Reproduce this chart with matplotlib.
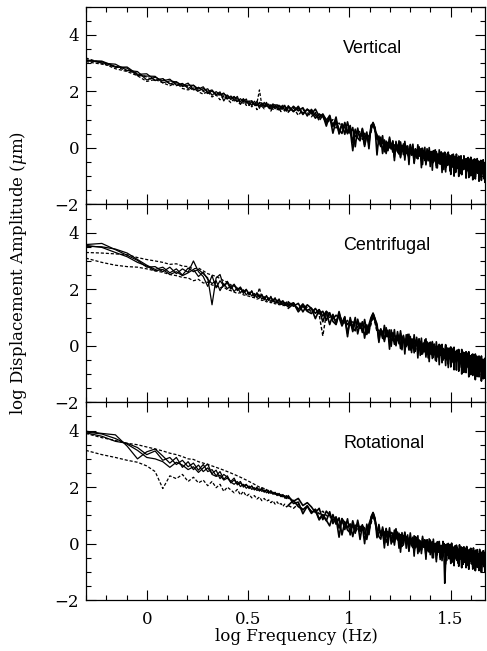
import numpy as np
import matplotlib
matplotlib.use('Agg')
import matplotlib.pyplot as plt
from matplotlib.ticker import MultipleLocator, FuncFormatter

plt.rcParams['font.family'] = ['DejaVu Serif']
plt.rcParams['mathtext.fontset'] = 'dejavuserif'

# frequency grids (Hz): coarse low-frequency part and dense high-frequency part
freq_low = 0.5 + 0.1 * np.arange(46)
freq_high = 5.0 + 0.3 * np.arange(141)

# ---- Vertical ----
vert_s1 = [3.10, 3.05, 2.85, 2.86, 2.60, 2.62, 2.39, 2.45, 2.26, 2.34,
           2.20, 2.29, 2.05, 2.14, 2.03, 2.09, 1.86, 1.99, 1.88, 1.94,
           1.73, 1.82, 1.71, 1.82, 1.54, 1.72, 1.62, 1.66, 1.50, 1.65,
           1.52, 1.57, 1.46, 1.61, 1.47, 1.55, 1.37, 1.51, 1.53, 1.39,
           1.49, 1.41, 1.51, 1.32, 1.43, 1.45]
vert_s2 = [3.12, 3.00, 2.96, 2.74, 2.70, 2.40, 2.50, 2.37, 2.43, 2.22,
           2.28, 2.10, 2.22, 2.08, 2.16, 1.94, 2.01, 1.89, 1.98, 1.66,
           1.87, 1.75, 1.82, 1.64, 1.74, 1.63, 1.73, 1.50, 1.64, 1.52,
           1.65, 1.40, 1.59, 1.49, 1.61, 1.41, 1.53, 1.42, 1.49, 1.53,
           1.34, 1.49, 1.39, 1.51, 1.35, 1.42]
vert_s3 = [3.07, 3.07, 2.88, 2.82, 2.56, 2.54, 2.53, 2.30, 2.37, 2.33,
           2.17, 2.22, 2.21, 2.01, 2.10, 2.00, 2.05, 1.88, 1.87, 1.91,
           1.84, 1.71, 1.80, 1.74, 1.64, 1.74, 1.58, 1.64, 1.67, 1.54,
           1.49, 1.61, 1.57, 1.45, 1.56, 1.52, 1.44, 1.56, 1.38, 1.49,
           1.51, 1.36, 1.45, 1.47, 1.31, 1.44]
vert_d1 = [3.18, 3.00, 2.80, 2.70, 2.55, 2.35, 2.42, 2.30, 2.20, 2.30,
           2.10, 2.05, 2.12, 1.98, 1.90, 2.00, 1.80, 1.88, 1.70, 1.85,
           1.72, 1.60, 1.75, 1.62, 1.55, 1.68, 1.50, 1.60, 1.45, 1.56,
           1.35, 1.50, 1.48, 1.38, 1.52, 1.44, 1.30, 1.46, 1.40, 1.35,
           1.42, 1.28, 1.40, 1.36, 1.30, 1.38]
vert_d2 = [3.05, 2.96, 2.88, 2.72, 2.64, 2.50, 2.38, 2.44, 2.28, 2.20,
           2.26, 2.15, 2.04, 2.14, 2.00, 1.92, 2.02, 1.85, 1.92, 1.80,
           1.76, 1.84, 1.66, 1.70, 1.62, 1.58, 1.66, 1.50, 1.62, 1.48,
           1.58, 2.05, 1.50, 1.44, 1.55, 1.40, 1.50, 1.36, 1.48, 1.42,
           1.34, 1.46, 1.38, 1.30, 1.42, 1.35]
vert_hs = [1.45, 1.30, 1.40, 1.22, 1.36, 1.28, 1.05, 1.20, 1.10, 0.90,
           1.02, 0.80, 0.95, 0.55, 0.85, 0.72, 0.50, 0.65, -0.10, 0.60,
           0.55, 0.38, 0.50, 0.05, 0.45, 0.40, 0.62, 0.90, 0.70, 0.30,
           0.30, 0.05, 0.25, 0.15, -0.20, 0.20, 0.00, 0.15, -0.15, 0.10,
           0.12, -0.10, 0.05, -0.35, 0.08, 0.02, -0.15, -0.05, 0.05, -0.40,
           -0.02, -0.20, -0.08, -0.55, -0.05, -0.10, -0.25, -0.12, -0.05, -0.45,
           -0.15, -0.35, -0.18, -0.60, -0.12, -0.20, -0.38, -0.25, -0.15, -0.50,
           -0.25, -0.45, -0.28, -0.70, -0.22, -0.30, -0.50, -0.32, -0.20, -0.60,
           -0.32, -0.55, -0.35, -0.85, -0.30, -0.38, -0.60, -0.40, -0.28, -0.65,
           -0.40, -0.62, -0.45, -1.00, -0.38, -0.45, -0.68, -0.48, -0.35, -0.75,
           -0.48, -0.72, -0.50, -0.95, -0.45, -0.50, -0.75, -0.52, -0.40, -0.85,
           -0.55, -0.80, -0.58, -1.05, -0.50, -0.58, -0.82, -0.60, -0.45, -0.90,
           -0.60, -0.85, -0.62, -1.10, -0.55, -0.62, -0.88, -0.65, -0.50, -0.95,
           -0.65, -0.90, -0.68, -1.15, -0.60, -0.68, -0.92, -0.70, -0.55, -1.00,
           -0.70]
vert_ha = [1.48, 1.28, 1.47, 1.18, 1.37, 1.20, 1.37, 1.11, 1.17, 0.77,
           1.15, 0.75, 1.09, 0.49, 0.83, 0.48, 0.92, 0.51, 0.72, 0.04,
           0.70, 0.32, 0.69, 0.11, 0.48, 0.15, 0.75, 0.88, 0.70, -0.25,
           0.42, 0.05, 0.43, -0.14, 0.24, -0.08, 0.38, -0.02, 0.22, -0.45,
           0.23, -0.13, 0.25, -0.31, 0.07, -0.24, 0.23, -0.16, 0.07, -0.59,
           0.10, -0.26, 0.13, -0.44, -0.05, -0.36, 0.11, -0.28, -0.04, -0.70,
           -0.01, -0.37, 0.02, -0.54, -0.15, -0.46, 0.01, -0.38, -0.13, -0.79,
           -0.10, -0.46, -0.07, -0.62, -0.23, -0.54, -0.07, -0.46, -0.21, -0.87,
           -0.18, -0.54, -0.15, -0.70, -0.31, -0.62, -0.15, -0.53, -0.29, -0.94,
           -0.25, -0.61, -0.22, -0.77, -0.38, -0.69, -0.22, -0.60, -0.36, -1.01,
           -0.32, -0.68, -0.28, -0.84, -0.44, -0.75, -0.28, -0.66, -0.42, -1.07,
           -0.38, -0.74, -0.34, -0.90, -0.50, -0.81, -0.33, -0.72, -0.47, -1.13,
           -0.43, -0.79, -0.39, -0.95, -0.55, -0.86, -0.38, -0.77, -0.52, -1.18,
           -0.48, -0.83, -0.44, -0.99, -0.60, -0.90, -0.42, -0.81, -0.56, -1.22,
           -0.52]
vert_hb = [1.27, 1.47, 1.31, 1.42, 1.13, 1.36, 1.15, 1.05, 1.20, 0.98,
           1.13, 0.52, 0.96, 0.64, 0.51, 0.90, 0.56, 0.79, 0.19, 0.66,
           0.35, 0.25, 0.66, 0.33, 0.56, -0.03, 0.80, 0.85, 0.60, 0.47,
           0.14, 0.38, -0.20, 0.28, -0.01, -0.10, 0.32, 0.00, 0.25, -0.33,
           0.15, -0.13, -0.22, 0.21, -0.11, 0.14, -0.43, 0.06, -0.23, -0.31,
           0.12, -0.19, 0.06, -0.52, -0.03, -0.31, -0.39, 0.04, -0.27, -0.02,
           -0.59, -0.10, -0.38, -0.46, -0.03, -0.34, -0.09, -0.66, -0.16, -0.44,
           -0.52, -0.09, -0.40, -0.14, -0.71, -0.22, -0.50, -0.58, -0.14, -0.45,
           -0.20, -0.77, -0.28, -0.55, -0.63, -0.20, -0.51, -0.25, -0.82, -0.32,
           -0.60, -0.68, -0.25, -0.55, -0.30, -0.87, -0.38, -0.65, -0.73, -0.29,
           -0.60, -0.35, -0.91, -0.42, -0.69, -0.77, -0.34, -0.64, -0.39, -0.95,
           -0.46, -0.74, -0.81, -0.38, -0.68, -0.43, -0.99, -0.50, -0.77, -0.85,
           -0.41, -0.72, -0.46, -1.03, -0.53, -0.81, -0.88, -0.45, -0.75, -0.50,
           -1.06, -0.56, -0.84, -0.91, -0.48, -0.78, -0.52, -1.09, -0.59, -0.87,
           -0.94]
vert_hd = [1.30, 1.42, 1.15, 1.35, 1.25, 1.10, 1.25, 0.95, 1.15, 1.00,
           0.90, 1.00, 0.70, 0.88, 0.75, 0.60, 0.75, 0.55, 0.68, 0.40,
           0.48, 0.60, 0.30, 0.52, 0.42, 0.30, 0.55, 0.85, 0.60, 0.35,
           0.18, 0.28, 0.10, 0.22, 0.08, 0.05, 0.18, -0.05, 0.12, -0.25,
           0.00, 0.10, -0.12, 0.06, -0.02, -0.08, 0.05, -0.20, -0.02, -0.10,
           -0.15, -0.05, -0.30, -0.10, -0.18, -0.20, -0.08, -0.30, -0.15, -0.22,
           -0.28, -0.15, -0.45, -0.20, -0.25, -0.30, -0.18, -0.40, -0.25, -0.35,
           -0.38, -0.22, -0.42, -0.30, -0.55, -0.40, -0.28, -0.48, -0.35, -0.38,
           -0.45, -0.32, -0.60, -0.38, -0.42, -0.48, -0.35, -0.55, -0.42, -0.80,
           -0.52, -0.40, -0.58, -0.45, -0.50, -0.55, -0.42, -0.70, -0.48, -0.56,
           -0.60, -0.45, -0.65, -0.52, -0.58, -0.62, -0.48, -0.75, -0.55, -0.60,
           -0.65, -0.52, -0.70, -0.58, -0.95, -0.68, -0.55, -0.78, -0.60, -0.66,
           -0.70, -0.58, -0.80, -0.62, -0.72, -0.72, -0.60, -0.90, -0.65, -0.74,
           -0.75, -0.62, -0.85, -0.68, -0.78, -0.78, -0.65, -1.00, -0.70, -0.80,
           -0.75]

# ---- Centrifugal ----
cent_s1 = [3.58, 3.62, 3.40, 3.20, 3.02, 2.78, 2.80, 2.62, 2.78, 2.55,
           2.72, 2.60, 3.00, 2.62, 2.45, 2.10, 2.48, 2.05, 2.30, 2.12,
           2.22, 2.00, 2.15, 1.95, 2.05, 1.85, 1.98, 1.80, 1.92, 1.75,
           1.85, 1.70, 1.80, 1.62, 1.78, 1.60, 1.75, 1.55, 1.70, 1.52,
           1.66, 1.50, 1.60, 1.42, 1.55, 1.45]
cent_s2 = [3.52, 3.50, 3.42, 3.28, 3.05, 2.85, 2.70, 2.78, 2.58, 2.72,
           2.50, 2.75, 2.62, 2.70, 2.55, 2.40, 1.45, 2.40, 2.52, 2.10,
           2.28, 2.05, 2.18, 1.98, 2.08, 1.90, 2.00, 1.82, 1.95, 1.72,
           1.88, 1.74, 1.82, 1.66, 1.76, 1.62, 1.72, 1.58, 1.68, 1.55,
           1.62, 1.48, 1.58, 1.50, 1.52, 1.40]
cent_s3 = [3.55, 3.48, 3.30, 3.15, 2.95, 2.82, 2.65, 2.70, 2.52, 2.62,
           2.48, 2.58, 2.70, 2.45, 2.60, 2.35, 2.20, 2.30, 1.95, 2.20,
           2.02, 2.12, 1.92, 2.05, 1.88, 1.98, 1.80, 1.90, 1.76, 1.85,
           1.70, 1.80, 1.65, 1.74, 1.60, 1.70, 1.56, 1.66, 1.52, 1.62,
           1.48, 1.58, 1.45, 1.54, 1.42, 1.50]
cent_d1 = [3.30, 3.28, 3.25, 3.22, 3.12, 3.05, 3.00, 2.95, 2.88, 2.90,
           2.82, 2.80, 2.72, 2.75, 2.65, 2.55, 2.50, 2.45, 2.38, 2.30,
           2.25, 2.15, 2.12, 2.05, 2.00, 1.95, 1.90, 1.85, 1.82, 1.80,
           1.75, 2.05, 1.70, 1.68, 1.62, 1.65, 1.58, 1.60, 1.55, 1.52,
           1.50, 1.46, 1.48, 1.42, 1.45, 1.40]
cent_d2 = [3.10, 2.95, 2.85, 2.80, 2.78, 2.72, 2.65, 2.60, 2.52, 2.48,
           2.42, 2.40, 2.30, 2.35, 2.22, 2.25, 2.15, 2.12, 2.05, 2.08,
           1.98, 1.95, 1.90, 1.85, 1.88, 1.80, 1.78, 1.75, 1.72, 1.70,
           1.65, 1.68, 1.60, 1.62, 1.55, 1.58, 1.52, 1.54, 1.48, 1.50,
           1.45, 1.46, 1.42, 1.44, 1.38, 1.40]
cent_hs = [1.55, 1.40, 1.50, 1.20, 1.45, 1.32, 1.15, 1.28, 0.85, 1.22,
           1.10, 0.95, 1.08, 1.00, 0.70, 0.92, 0.75, 0.88, 0.50, 0.85,
           0.78, 0.62, 0.75, 0.68, 0.40, 0.65, 0.85, 1.15, 0.95, 0.55,
           0.55, 0.40, 0.52, 0.15, 0.48, 0.45, 0.30, 0.42, 0.35, 0.05,
           0.35, 0.20, 0.32, -0.10, 0.30, 0.28, 0.12, 0.25, 0.18, -0.15,
           0.20, 0.05, 0.18, -0.25, 0.15, 0.12, -0.02, 0.10, 0.05, -0.30,
           0.06, -0.10, 0.04, -0.40, 0.02, 0.00, -0.15, -0.02, -0.08, -0.45,
           -0.06, -0.22, -0.08, -0.55, -0.10, -0.12, -0.28, -0.14, -0.18, -0.60,
           -0.16, -0.32, -0.18, -0.70, -0.20, -0.22, -0.38, -0.24, -0.28, -0.75,
           -0.26, -0.42, -0.28, -0.85, -0.30, -0.30, -0.48, -0.32, -0.36, -0.90,
           -0.35, -0.52, -0.36, -1.00, -0.38, -0.40, -0.56, -0.42, -0.45, -0.95,
           -0.44, -0.60, -0.46, -1.10, -0.48, -0.48, -0.65, -0.50, -0.55, -1.05,
           -0.52, -0.68, -0.54, -1.20, -0.56, -0.55, -0.72, -0.58, -0.60, -1.10,
           -0.58, -0.76, -0.62, -1.25, -0.64, -0.62, -0.80, -0.65, -0.68, -1.15,
           -0.68]
cent_ha = [1.33, 1.48, 1.29, 1.48, 1.25, 1.33, 0.96, 1.27, 1.05, 1.21,
           0.75, 1.11, 0.77, 1.21, 0.79, 1.00, 0.32, 1.00, 0.62, 1.00,
           0.42, 0.80, 0.47, 0.93, 0.52, 0.75, 1.00, 1.15, 0.95, 0.77,
           0.20, 0.58, 0.26, 0.72, 0.32, 0.55, -0.12, 0.56, 0.19, 0.57,
           0.00, 0.38, 0.07, 0.53, 0.14, 0.37, -0.29, 0.39, 0.03, 0.41,
           -0.15, 0.24, -0.08, 0.39, -0.01, 0.23, -0.43, 0.25, -0.11, 0.27,
           -0.29, 0.10, -0.21, 0.25, -0.14, 0.10, -0.56, 0.13, -0.24, 0.15,
           -0.41, -0.02, -0.33, 0.14, -0.25, -0.01, -0.67, 0.02, -0.34, 0.05,
           -0.51, -0.12, -0.43, 0.04, -0.35, -0.11, -0.77, -0.08, -0.43, -0.04,
           -0.60, -0.21, -0.52, -0.05, -0.44, -0.20, -0.86, -0.17, -0.52, -0.13,
           -0.69, -0.30, -0.61, -0.13, -0.52, -0.28, -0.94, -0.25, -0.60, -0.21,
           -0.77, -0.38, -0.69, -0.21, -0.60, -0.36, -1.02, -0.33, -0.68, -0.29,
           -0.85, -0.46, -0.76, -0.29, -0.67, -0.43, -1.09, -0.40, -0.75, -0.36,
           -0.92, -0.53, -0.84, -0.36, -0.75, -0.51, -1.17, -0.48, -0.83, -0.44,
           -1.00]
cent_hb = [1.44, 1.52, 1.20, 1.40, 1.22, 1.14, 1.32, 1.13, 1.22, 0.90,
           1.17, 0.86, 0.75, 1.15, 0.81, 1.03, 0.44, 0.92, 0.62, 0.53,
           0.94, 0.62, 0.85, 0.27, 0.74, 0.45, 0.95, 1.12, 0.85, 0.70,
           0.12, 0.60, 0.31, 0.22, 0.64, 0.32, 0.56, -0.02, 0.46, 0.17,
           0.08, 0.50, 0.19, 0.43, -0.14, 0.34, 0.06, -0.03, 0.40, 0.08,
           0.33, -0.24, 0.24, -0.04, -0.13, 0.30, -0.01, 0.23, -0.34, 0.14,
           -0.14, -0.22, 0.21, -0.11, 0.14, -0.43, 0.06, -0.22, -0.31, 0.12,
           -0.19, 0.06, -0.51, -0.02, -0.30, -0.38, 0.05, -0.26, -0.01, -0.58,
           -0.09, -0.37, -0.45, -0.02, -0.33, -0.08, -0.65, -0.16, -0.43, -0.51,
           -0.08, -0.39, -0.14, -0.71, -0.22, -0.50, -0.58, -0.15, -0.45, -0.20,
           -0.77, -0.28, -0.56, -0.63, -0.20, -0.51, -0.26, -0.83, -0.33, -0.61,
           -0.69, -0.26, -0.57, -0.31, -0.88, -0.39, -0.67, -0.75, -0.31, -0.62,
           -0.37, -0.94, -0.44, -0.72, -0.79, -0.36, -0.67, -0.42, -0.98, -0.49,
           -0.77, -0.85, -0.42, -0.72, -0.47, -1.04, -0.55, -0.83, -0.90, -0.47,
           -0.78]
cent_hd = [1.40, 1.52, 1.30, 1.45, 1.35, 1.20, 1.30, 1.10, 0.35, 1.12,
           1.00, 1.08, 0.90, 1.02, 0.95, 0.80, 0.90, 0.72, 0.85, 0.78,
           0.65, 0.75, 0.55, 0.70, 0.60, 0.55, 0.75, 1.05, 0.80, 0.50,
           0.42, 0.52, 0.35, 0.48, 0.38, 0.32, 0.42, 0.20, 0.38, 0.30,
           0.22, 0.32, 0.15, 0.28, 0.05, 0.15, 0.25, 0.08, 0.20, 0.12,
           0.08, 0.18, 0.00, 0.12, -0.20, 0.00, 0.10, -0.08, 0.05, 0.02,
           -0.05, 0.04, -0.12, -0.02, -0.30, -0.12, -0.02, -0.18, -0.08, -0.10,
           -0.18, -0.08, -0.25, -0.12, -0.40, -0.22, -0.12, -0.30, -0.18, -0.20,
           -0.28, -0.18, -0.35, -0.22, -0.50, -0.32, -0.22, -0.40, -0.28, -0.30,
           -0.36, -0.26, -0.45, -0.32, -0.60, -0.40, -0.30, -0.50, -0.36, -0.42,
           -0.45, -0.35, -0.55, -0.40, -0.70, -0.48, -0.38, -0.58, -0.45, -0.50,
           -0.52, -0.42, -0.62, -0.48, -0.85, -0.56, -0.46, -0.66, -0.52, -0.60,
           -0.60, -0.50, -0.70, -0.56, -0.90, -0.62, -0.52, -0.74, -0.60, -0.66,
           -0.66, -0.56, -0.78, -0.62, -0.95, -0.70, -0.60, -0.80, -0.66, -0.74,
           -0.72]

# ---- Rotational ----
rot_s1 = [3.98, 3.90, 3.85, 3.45, 3.00, 3.25, 3.35, 3.10, 2.85, 3.05,
          2.70, 2.90, 2.62, 2.78, 2.55, 2.68, 2.48, 2.60, 2.30, 2.45,
          2.35, 2.20, 2.32, 2.08, 2.15, 2.05, 2.10, 1.95, 2.05, 1.90,
          2.00, 1.86, 1.98, 1.82, 1.92, 1.78, 1.88, 1.75, 1.82, 1.70,
          1.78, 1.66, 1.74, 1.62, 1.70, 1.60]
rot_s2 = [3.92, 3.80, 3.62, 3.55, 3.40, 3.15, 3.28, 2.95, 3.05, 2.80,
          2.95, 2.72, 2.85, 2.60, 2.80, 2.55, 2.62, 2.40, 2.55, 2.28,
          2.40, 2.15, 2.25, 2.12, 2.20, 2.00, 2.08, 1.98, 2.02, 1.92,
          1.96, 1.88, 1.92, 1.84, 1.88, 1.80, 1.84, 1.76, 1.80, 1.72,
          1.76, 1.68, 1.72, 1.64, 1.68, 1.62]
rot_s3 = [3.95, 3.88, 3.72, 3.52, 3.30, 3.05, 3.00, 2.90, 2.70, 2.88,
          2.78, 2.62, 2.72, 2.52, 2.68, 2.82, 2.45, 2.38, 2.42, 2.25,
          2.32, 2.18, 2.10, 2.20, 2.02, 2.10, 1.96, 2.04, 1.92, 1.98,
          1.88, 1.94, 1.85, 1.90, 1.80, 1.85, 1.78, 1.82, 1.74, 1.78,
          1.70, 1.74, 1.66, 1.70, 1.62, 1.66]
rot_d1 = [3.90, 3.75, 3.65, 3.55, 3.50, 3.42, 3.35, 3.28, 3.20, 3.15,
          3.08, 3.00, 2.98, 2.90, 2.85, 2.80, 2.75, 2.70, 2.65, 2.60,
          2.55, 2.50, 2.45, 2.40, 2.35, 2.30, 2.25, 2.20, 2.15, 2.10,
          2.05, 2.00, 1.98, 1.95, 1.90, 1.88, 1.85, 1.80, 1.78, 1.75,
          1.72, 1.68, 1.66, 1.62, 1.60, 1.58]
rot_d2 = [3.30, 3.15, 3.05, 2.95, 2.88, 2.75, 2.55, 1.95, 2.40, 2.30,
          2.45, 2.20, 2.35, 2.15, 2.25, 2.05, 2.20, 1.98, 2.10, 1.85,
          2.00, 1.90, 1.80, 1.92, 1.72, 1.85, 1.68, 1.75, 1.62, 1.70,
          1.58, 1.65, 1.52, 1.60, 1.50, 1.55, 1.45, 1.52, 1.40, 1.48,
          1.38, 1.42, 1.32, 1.40, 1.30, 1.35]
rot_hs = [1.65, 1.50, 1.60, 1.35, 1.45, 1.30, 1.10, 1.25, 0.85, 1.15,
          1.00, 0.82, 0.95, 0.55, 0.88, 0.75, 0.58, 0.70, 0.25, 0.65,
          0.65, 0.48, 0.62, 0.55, 0.15, 0.58, 0.80, 1.10, 0.85, 0.45,
          0.50, 0.35, 0.48, 0.00, 0.42, 0.42, 0.28, 0.40, 0.32, -0.05,
          0.35, 0.20, 0.32, -0.15, 0.28, 0.28, 0.12, 0.25, 0.18, -0.25,
          0.20, 0.05, 0.18, -0.30, 0.12, 0.14, -0.02, 0.12, 0.05, -0.35,
          0.08, -0.08, 0.05, -0.45, 0.02, 0.02, -0.12, 0.00, -0.06, -0.50,
          -0.02, -0.18, -0.04, -0.55, -0.08, -0.06, -0.22, -0.08, -0.12, -0.60,
          -0.10, -0.25, -1.40, -0.65, -0.14, -0.14, -0.30, -0.16, -0.18, -0.70,
          -0.16, -0.32, -0.18, -0.75, -0.22, -0.20, -0.35, -0.22, -0.25, -0.80,
          -0.22, -0.38, -0.24, -0.85, -0.28, -0.25, -0.42, -0.28, -0.30, -0.85,
          -0.28, -0.45, -0.30, -0.90, -0.34, -0.32, -0.48, -0.34, -0.36, -0.90,
          -0.34, -0.50, -0.36, -0.95, -0.40, -0.36, -0.52, -0.38, -0.42, -0.95,
          -0.38, -0.55, -0.42, -1.00, -0.45, -0.40, -0.58, -0.44, -0.46, -1.00,
          -0.50]
rot_ha = [1.69, 1.42, 1.47, 1.06, 1.33, 1.07, 1.21, 0.88, 1.02, 0.81,
          1.13, 0.71, 0.92, 0.23, 0.89, 0.50, 0.88, 0.31, 0.69, 0.37,
          0.83, 0.43, 0.67, 0.00, 0.69, 0.32, 0.95, 1.10, 0.90, 0.21,
          0.68, 0.28, 0.52, -0.15, 0.54, 0.17, 0.56, -0.01, 0.38, 0.06,
          0.53, 0.13, 0.37, -0.30, 0.39, 0.02, 0.41, -0.16, 0.23, -0.09,
          0.38, -0.01, 0.23, -0.44, 0.25, -0.11, 0.28, -0.29, 0.10, -0.21,
          0.26, -0.13, 0.11, -0.55, 0.14, -0.22, 0.17, -0.39, 0.00, -0.31,
          0.16, -0.23, 0.01, -0.64, 0.05, -0.31, 0.08, -0.48, -0.08, -0.39,
          0.08, -0.31, -0.06, -0.72, -0.02, -0.38, 0.01, -0.54, -0.15, -0.45,
          0.02, -0.37, -0.12, -0.78, -0.08, -0.44, -0.05, -0.60, -0.21, -0.51,
          -0.04, -0.43, -0.18, -0.84, -0.14, -0.50, -0.11, -0.66, -0.27, -0.57,
          -0.10, -0.49, -0.24, -0.90, -0.20, -0.56, -0.16, -0.72, -0.32, -0.63,
          -0.15, -0.54, -0.29, -0.95, -0.25, -0.61, -0.21, -0.77, -0.37, -0.68,
          -0.20, -0.58, -0.34, -0.99, -0.30, -0.65, -0.25, -0.81, -0.41, -0.72,
          -0.24]
rot_hb = [1.36, 1.53, 1.31, 1.20, 1.34, 1.11, 1.18, 0.84, 1.03, 0.83,
          0.63, 1.03, 0.69, 0.91, 0.31, 0.77, 0.48, 0.39, 0.81, 0.49,
          0.73, 0.15, 0.64, 0.35, 0.27, 0.69, 0.90, 1.05, 0.80, 0.53,
          0.25, 0.16, 0.59, 0.27, 0.52, -0.06, 0.43, 0.14, 0.06, 0.48,
          0.17, 0.41, -0.16, 0.32, 0.04, -0.05, 0.38, 0.06, 0.31, -0.27,
          0.22, -0.06, -0.14, 0.28, -0.03, 0.22, -0.35, 0.13, -0.15, -0.23,
          0.20, -0.11, 0.14, -0.43, 0.06, -0.22, -0.30, 0.13, -0.18, 0.07,
          -0.50, -0.01, -0.29, -0.36, 0.07, -0.24, 0.01, -0.56, -0.06, -0.34,
          -0.42, 0.01, -0.29, -0.04, -0.60, -0.11, -0.39, -0.46, -0.03, -0.33,
          -0.08, -0.65, -0.15, -0.43, -0.50, -0.07, -0.38, -0.12, -0.69, -0.19,
          -0.47, -0.55, -0.11, -0.42, -0.16, -0.73, -0.24, -0.51, -0.59, -0.15,
          -0.46, -0.21, -0.77, -0.28, -0.55, -0.63, -0.19, -0.50, -0.24, -0.81,
          -0.31, -0.59, -0.66, -0.23, -0.53, -0.28, -0.84, -0.35, -0.62, -0.70,
          -0.26, -0.56, -0.31, -0.87, -0.38, -0.65, -0.72, -0.29, -0.59, -0.34,
          -0.90]
rot_hd = [1.35, 1.25, 1.40, 1.20, 1.30, 1.15, 1.22, 1.05, 1.15, 1.00,
          0.92, 0.98, 0.80, 0.90, 0.75, 0.68, 0.75, 0.60, 0.70, 0.40,
          0.55, 0.62, 0.48, 0.58, 0.50, 0.45, 0.70, 1.00, 0.75, 0.40,
          0.38, 0.45, 0.30, 0.42, 0.05, 0.30, 0.38, 0.22, 0.35, 0.25,
          0.22, 0.30, 0.15, 0.28, -0.10, 0.15, 0.22, 0.08, 0.20, 0.12,
          0.08, 0.15, 0.00, 0.12, -0.20, 0.02, 0.10, -0.05, 0.06, 0.00,
          -0.04, 0.04, -0.10, 0.00, -0.30, -0.08, 0.00, -0.15, -0.05, -0.10,
          -0.12, -0.05, -0.20, -0.10, -0.40, -0.16, -0.08, -0.22, -0.14, -0.18,
          -0.20, -0.12, -0.25, -0.18, -0.45, -0.22, -0.15, -0.30, -0.20, -0.25,
          -0.26, -0.18, -0.32, -0.24, -0.55, -0.28, -0.20, -0.36, -0.26, -0.32,
          -0.32, -0.24, -0.40, -0.30, -0.60, -0.35, -0.26, -0.42, -0.32, -0.38,
          -0.38, -0.30, -0.45, -0.35, -0.65, -0.40, -0.32, -0.48, -0.38, -0.44,
          -0.42, -0.35, -0.50, -0.40, -0.70, -0.45, -0.38, -0.52, -0.42, -0.48,
          -0.48, -0.40, -0.55, -0.45, -0.75, -0.50, -0.42, -0.58, -0.48, -0.52,
          -0.55]

DASH = (0, (2.5, 1.5))


def draw_panel(ax, solids, dashes, high_solids, high_d, name, bottom=False):
    x_low = np.log10(freq_low)
    x_high = np.log10(freq_high)
    for y in dashes:
        ax.plot(x_low, y, color='black', linewidth=0.9, linestyle=DASH)
    for y in solids:
        ax.plot(x_low, y, color='black', linewidth=0.9)
    ax.plot(x_high, high_d, color='black', linewidth=1.0, linestyle=DASH)
    for y in high_solids:
        ax.plot(x_high, y, color='black', linewidth=1.2)

    ax.set_xlim(-0.3, 1.67)
    ax.set_ylim(-2, 5)
    ax.xaxis.set_major_locator(MultipleLocator(0.5))
    ax.xaxis.set_minor_locator(MultipleLocator(0.1))
    ax.yaxis.set_major_locator(MultipleLocator(2))
    ax.yaxis.set_minor_locator(MultipleLocator(0.5))
    ax.xaxis.set_major_formatter(FuncFormatter(lambda v, p: '%g' % v))
    ax.tick_params(which='both', direction='in', top=True, right=True,
                   width=0.8, labelsize=12)
    ax.tick_params(which='major', length=7)
    ax.tick_params(which='minor', length=3.5)
    ax.tick_params(axis='y', pad=5)
    ax.tick_params(axis='x', pad=8)
    if not bottom:
        ax.tick_params(axis='x', labelbottom=False)
    for s in ax.spines.values():
        s.set_linewidth(0.9)
    ax.text(0.645, 0.79, name, transform=ax.transAxes, fontsize=13,
            family='Liberation Sans', va='center', ha='left')


fig = plt.figure(figsize=(4.87, 6.51), dpi=100)
left, width, h = 0.1766, 0.8193, 0.304
ax1 = fig.add_axes([left, 0.686, width, h])
ax2 = fig.add_axes([left, 0.382, width, h])
ax3 = fig.add_axes([left, 0.078, width, h])

draw_panel(ax1, [vert_s1, vert_s2, vert_s3], [vert_d1, vert_d2],
           [vert_hs, vert_ha, vert_hb], vert_hd, 'Vertical')
draw_panel(ax2, [cent_s1, cent_s2, cent_s3], [cent_d1, cent_d2],
           [cent_hs, cent_ha, cent_hb], cent_hd, 'Centrifugal')
draw_panel(ax3, [rot_s1, rot_s2, rot_s3], [rot_d1, rot_d2],
           [rot_hs, rot_ha, rot_hb], rot_hd, 'Rotational', bottom=True)

fig.text(0.609, 0.023, 'log Frequency (Hz)', fontsize=12, ha='center', va='center')
fig.text(0.039, 0.58, r'log Displacement Amplitude ($\mu$m)', fontsize=12,
         rotation=90, ha='center', va='center')

fig.savefig('out.png', dpi=100)
